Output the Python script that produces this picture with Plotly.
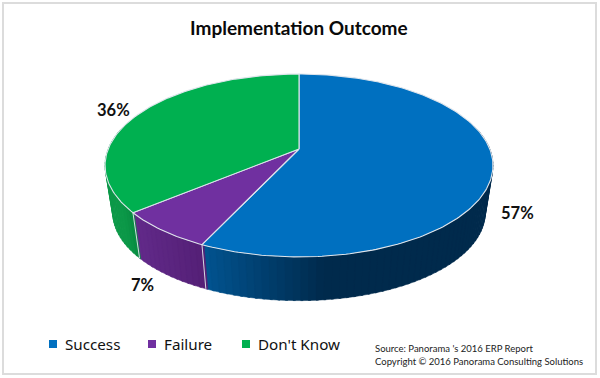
import math
import plotly.graph_objects as go

# ---- data ----
categories = ["Success", "Failure", "Don't Know"]
values = [57, 7, 36]
title_text = "Implementation Outcome"
source_lines = ["Source: Panorama 's 2016 ERP Report", "Copyright © 2016 Panorama Consulting Solutions"]

# ---- styling ----
top_colors = ["#0070c0", "#7030a0", "#00b050"]
# wall shades: (colour at left end of the wall, colour at right end)
wall_left = [(1, 84, 145), (98, 42, 138), (12, 152, 72)]
wall_right = [(0, 42, 76), (84, 32, 118), (8, 140, 66)]
label_xy = [(517, 213), (142, 285), (113, 110)]
legend_xy = [(53, 344), (152, 344), (246, 344)]

CX, APEX_Y = 299, 149
A, B, K = 190.8, 88.5, 0.18
S_BOTTOM, APEX_Y_BOTTOM = 0.96, 197


def project(deg, scale=1.0, apex=APEX_Y, radius=1.0):
    t = math.radians(deg)
    u, v = radius * math.sin(t), radius * math.cos(t)
    w = 1 + K * v
    return CX + scale * A * u / w, apex - scale * B * v / w


def mix(c1, c2, f):
    f = max(0.0, min(1.0, f))
    return "rgb(%d,%d,%d)" % tuple(round(a + (b - a) * f) for a, b in zip(c1, c2))


def angle_range(a0, a1, step=1.0):
    n = max(2, int(math.ceil((a1 - a0) / step)))
    return [a0 + (a1 - a0) * i / n for i in range(n + 1)]


fig = go.Figure()
total = sum(values)
edges = [0.0]
for val in values:
    edges.append(edges[-1] + 360.0 * val / total)

# side walls, drawn first so the top face hides their far parts
for i in range(len(values)):
    a0, a1 = edges[i], edges[i + 1]
    a0v, a1v = max(a0, 75), min(a1, 285)
    if a1v <= a0v:
        continue
    angs = angle_range(a0v, a1v, 2.0)
    x_start = project(a1v)[0]
    x_end = project(a0v)[0]
    for p, q in reversed(list(zip(angs[:-1], angs[1:]))):
        xp = project((p + q) / 2)[0]
        f = (xp - x_start) / max(1.0, (x_end - x_start) * (0.45 if i == 0 else 1.0))
        col = mix(wall_left[i], wall_right[i], f)
        pts = [project(p - 0.6), project(q), project(q, S_BOTTOM, APEX_Y_BOTTOM), project(p - 0.6, S_BOTTOM, APEX_Y_BOTTOM)]
        fig.add_trace(go.Scatter(
            x=[c[0] for c in pts] + [pts[0][0]], y=[c[1] for c in pts] + [pts[0][1]],
            mode="lines", fill="toself", fillcolor=col, line=dict(color=col, width=0.5),
            hoverinfo="skip", showlegend=False))

# pale edges between the wall sections
for e in edges[1:-1]:
    p1, p2 = project(e), project(e, S_BOTTOM, APEX_Y_BOTTOM)
    fig.add_trace(go.Scatter(x=[p1[0], p2[0]], y=[p1[1], p2[1]], mode="lines",
                             line=dict(color="#d5dbe3", width=1), hoverinfo="skip", showlegend=False))

# top face
for i, cat in enumerate(categories):
    pts = [project(a) for a in angle_range(edges[i], edges[i + 1])]
    xs = [CX] + [c[0] for c in pts] + [CX]
    ys = [APEX_Y] + [c[1] for c in pts] + [APEX_Y]
    fig.add_trace(go.Scatter(x=xs, y=ys, mode="lines", fill="toself", fillcolor=top_colors[i],
                             line=dict(color="#dfe5ec", width=1.1), name=cat,
                             hoverinfo="name", showlegend=False))

# legend
for i, cat in enumerate(categories):
    fig.add_trace(go.Scatter(x=[legend_xy[i][0]], y=[legend_xy[i][1]], mode="markers",
                             marker=dict(symbol="square", size=8, color=top_colors[i]),
                             hoverinfo="skip", showlegend=False))
    fig.add_annotation(x=legend_xy[i][0] + 10, y=legend_xy[i][1], text=cat, showarrow=False,
                       xanchor="left", yanchor="middle",
                       font=dict(family="Noto Sans", size=15.2, color="#111111"))

for i, val in enumerate(values):
    fig.add_annotation(x=label_xy[i][0], y=label_xy[i][1], text="<b>%d%%</b>" % val, showarrow=False,
                       font=dict(family="Lato", size=16.5, color="#111111"))

fig.add_annotation(x=299, y=27, text="<b>%s</b>" % title_text, showarrow=False,
                   font=dict(family="Lato", size=19, color="#0a0a0a"))
for line, yy in zip(source_lines, [348, 361]):
    fig.add_annotation(x=373, y=yy, text=line, showarrow=False, xanchor="left",
                       font=dict(family="Lato", size=9.5, color="#222222"))

fig.update_layout(
    width=600, height=378, margin=dict(l=0, r=0, t=0, b=0),
    paper_bgcolor="white", plot_bgcolor="white", showlegend=False,
    xaxis=dict(range=[0, 600], visible=False, fixedrange=True),
    yaxis=dict(range=[378, 0], visible=False, fixedrange=True),
    shapes=[dict(type="rect", x0=3, y0=3, x1=596, y1=374, layer="below",
                 line=dict(color="#dcdcdc", width=2), fillcolor="white")],
)
fig.write_html("out.html", config=dict(displayModeBar=False),
               post_script="document.body.style.margin='0';document.body.style.overflow='hidden';")
